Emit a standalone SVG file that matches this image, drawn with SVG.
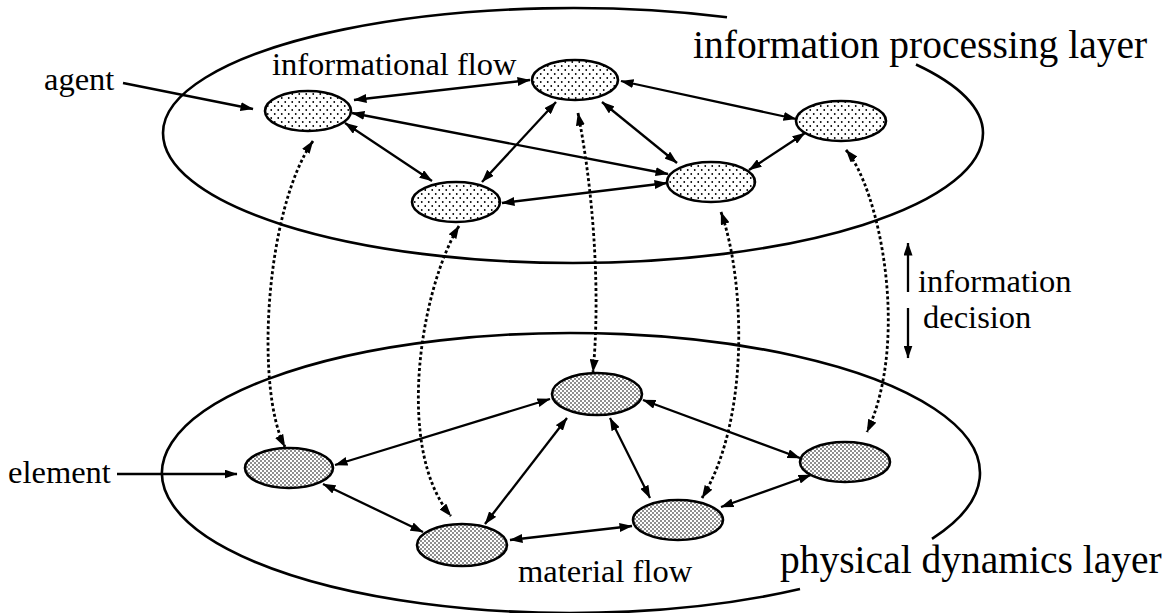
<svg xmlns="http://www.w3.org/2000/svg" width="1176" height="613" viewBox="0 0 1176 613">
<defs>
<pattern id="dotsLight" width="7" height="8" patternUnits="userSpaceOnUse">
<rect width="7" height="8" fill="#fff"/>
<circle cx="1.75" cy="2" r="0.9" fill="#000"/>
<circle cx="5.25" cy="6" r="0.9" fill="#000"/>
</pattern>
<pattern id="dotsDark" width="4" height="4" patternUnits="userSpaceOnUse">
<rect width="4" height="4" fill="#fff"/>
<circle cx="1" cy="1" r="0.8" fill="#000"/>
<circle cx="3" cy="3" r="0.8" fill="#000"/>
</pattern>
<marker id="ah" viewBox="0 0 13 9" refX="12.5" refY="4.5" markerWidth="13" markerHeight="9" markerUnits="userSpaceOnUse" orient="auto-start-reverse">
<path d="M0,0 L13,4.5 L0,9 z" fill="#000"/>
</marker>
</defs>
<style>
.layer{fill:none;stroke:#000;stroke-width:2.6}
.top{fill:url(#dotsLight);stroke:#000;stroke-width:2.6}
.bot{fill:url(#dotsDark);stroke:#000;stroke-width:2.6}
.flow{fill:none;stroke:#000;stroke-width:2.3;marker-end:url(#ah)}
.both{marker-start:url(#ah)}
.dot{fill:none;stroke:#000;stroke-width:2.8;stroke-dasharray:3 2.5;marker-start:url(#ah);marker-end:url(#ah)}
.lbl{font-family:"Liberation Serif","Times New Roman",serif;font-size:32.5px;fill:#000}
.big{font-family:"Liberation Serif","Times New Roman",serif;font-size:39.5px;fill:#000}
</style>
<rect width="1176" height="613" fill="#fff"/>
<g id="layers">
<path class="layer" d="M 916 64.5 A 410 125 0 0 1 983 133 A 410 130 0 0 1 163 133 A 410 125 0 0 1 727 17.2"/>
<path class="layer" d="M 932 538.8 A 409 140 0 1 0 800 589"/>
</g>
<g id="labels">
<text class="big" x="693" y="58">information processing layer</text>
<text class="big" x="780" y="573">physical dynamics layer</text>
<text class="lbl" x="44" y="90">agent</text>
<text class="lbl" x="272" y="75">informational flow</text>
<text class="lbl" x="8" y="483">element</text>
<text class="lbl" x="518" y="582">material flow</text>
<text class="lbl" x="918" y="292">information</text>
<text class="lbl" x="923" y="328">decision</text>
</g>
<g id="connectors">
<line class="flow" x1="123" y1="83" x2="253" y2="109"/>
<line class="flow both" x1="354" y1="100" x2="530" y2="80"/>
<line class="flow both" x1="352" y1="113" x2="668" y2="174"/>
<line class="flow both" x1="345" y1="123" x2="432" y2="181"/>
<line class="flow both" x1="556" y1="102" x2="482" y2="182"/>
<line class="flow both" x1="602" y1="102" x2="677" y2="163"/>
<line class="flow both" x1="621" y1="81" x2="796" y2="119"/>
<line class="flow both" x1="502" y1="203" x2="667" y2="183"/>
<line class="flow both" x1="749" y1="170" x2="805" y2="133"/>
<line class="flow" x1="117" y1="474" x2="237" y2="474"/>
<line class="flow both" x1="335" y1="465" x2="550" y2="399"/>
<line class="flow both" x1="323" y1="484" x2="423" y2="532"/>
<line class="flow both" x1="567" y1="418" x2="485" y2="524"/>
<line class="flow both" x1="610" y1="418" x2="650" y2="498"/>
<line class="flow both" x1="643" y1="400" x2="800" y2="458"/>
<line class="flow both" x1="510" y1="540" x2="632" y2="526"/>
<line class="flow both" x1="721" y1="507" x2="811" y2="475"/>
<line class="flow" x1="908" y1="292" x2="908" y2="243"/>
<line class="flow" x1="908" y1="308" x2="908" y2="358"/>
<path class="dot" d="M 313 141 C 265 210 255 390 285 447"/>
<path class="dot" d="M 578 113 C 595 200 600 300 593 372"/>
<path class="dot" d="M 459 226 C 420 290 395 450 451 516"/>
<path class="dot" d="M 721 212 C 745 280 750 420 702 498"/>
<path class="dot" d="M 846 150 C 880 190 910 340 867 432"/>
</g>
<g id="node-agent"><ellipse class="top" cx="308" cy="111" rx="43" ry="20"/></g>
<g id="node-top-center"><ellipse class="top" cx="575" cy="80" rx="43" ry="20"/></g>
<g id="node-top-right"><ellipse class="top" cx="841" cy="121" rx="45" ry="20"/></g>
<g id="node-top-lower-left"><ellipse class="top" cx="456" cy="202" rx="44" ry="20"/></g>
<g id="node-top-lower-right"><ellipse class="top" cx="711" cy="182" rx="44" ry="20"/></g>
<g id="node-element"><ellipse class="bot" cx="289" cy="468" rx="44" ry="20"/></g>
<g id="node-bottom-center"><ellipse class="bot" cx="597" cy="394" rx="45" ry="21"/></g>
<g id="node-bottom-right"><ellipse class="bot" cx="845" cy="462" rx="45" ry="20"/></g>
<g id="node-bottom-lower-left"><ellipse class="bot" cx="462" cy="545" rx="45" ry="21"/></g>
<g id="node-bottom-lower-right"><ellipse class="bot" cx="678" cy="520" rx="45" ry="20"/></g>
</svg>
